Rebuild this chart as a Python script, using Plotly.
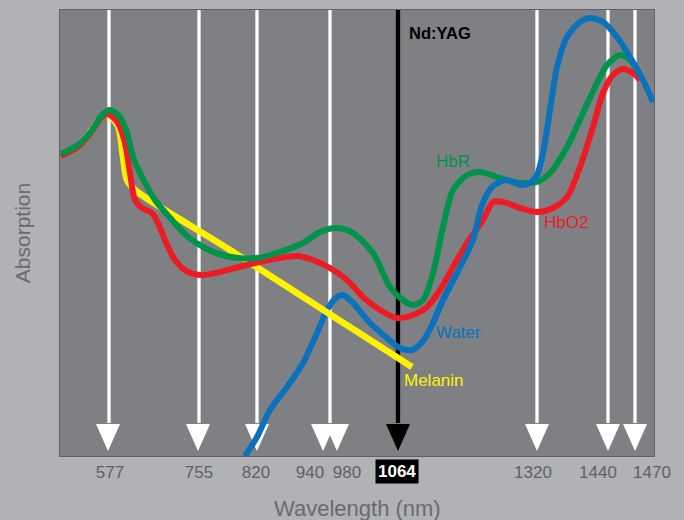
import plotly.graph_objects as go

# ---------------- data (schematic axis units) ----------------
# laser lines: label, shaft position, arrow-head position, tick-label position
line_labels = ["577", "755", "820", "940", "980", "1064", "1320", "1440", "1470"]
shaft_x = [49, 139, 197, 270, 270, 338, 477, 548, 575]
head_x = [48, 138, 197, 263, 277, 338, 477, 548, 575]
label_x = [50, 139, 196, 250, 287, 337, 473, 538, 592]
highlight = "1064"

# HbR (green)
hbr_x = [1, 18, 32, 42, 50, 60, 67, 73, 82, 95, 112, 128, 145, 162, 178, 197, 220, 243, 260, 277,
         293, 313, 330, 343, 353, 363, 373, 383, 393, 407, 420, 437, 453, 463, 477, 490, 507, 523,
         537, 547, 560, 570, 580]
hbr_y = [302, 311, 326, 341, 346, 339, 323, 299, 279, 256, 236, 219, 208, 201, 198, 198, 204, 213,
         224, 228, 223, 203, 169, 156, 151, 156, 183, 229, 266, 281, 284, 279, 274, 273, 274, 283,
         309, 343, 373, 391, 401, 396, 381]

# HbO2 (red)
hbo2_x = [1, 18, 32, 42, 48, 58, 65, 70, 75, 82, 92, 98, 105, 115, 128, 142, 155, 175, 195, 220,
          237, 253, 270, 287, 303, 320, 337, 353, 367, 380, 393, 407, 423, 433, 443, 460, 477, 493,
          507, 520, 533, 543, 553, 563, 573, 580]
hbo2_y = [300, 309, 325, 339, 342, 333, 313, 283, 256, 248, 243, 233, 216, 196, 184, 181, 183, 188,
          193, 198, 200, 196, 188, 176, 159, 146, 138, 141, 149, 166, 189, 213, 236, 254, 254, 248,
          244, 248, 259, 289, 329, 363, 381, 387, 383, 376]

# Water (blue)
water_x = [185, 197, 210, 227, 243, 257, 267, 277, 283, 293, 310, 327, 340, 352, 363, 373, 383, 397,
           413, 422, 433, 447, 460, 470, 477, 483, 490, 497, 507, 520, 530, 543, 557, 570, 583, 593]
water_y = [0, 19, 46, 69, 93, 123, 146, 159, 161, 153, 133, 118, 108, 106, 115, 133, 156, 183, 216,
           251, 270, 276, 271, 273, 281, 303, 346, 389, 419, 434, 438, 434, 419, 399, 376, 354]

# Melanin (yellow)
mel_x = [1, 18, 32, 42, 47, 58, 63, 67, 75, 170, 352]
mel_y = [301, 310, 326, 340, 342, 330, 299, 276, 266, 206, 89]

# ---------------- styling ----------------
X_MAX, Y_MAX = 594, 446
HEAD_TOP, HEAD_TIP, HEAD_HALF = 32, 5, 12
GREEN, RED, BLUE, YELLOW = "#00944a", "#ed1c24", "#0a72bd", "#fff200"
FONT = "Liberation Sans, Arial, sans-serif"
TICK_COLOR = "#606164"
TITLE_COLOR = "#6a6b6e"
PAPER = "#b1b2b5"

fig = go.Figure()

# arrow shafts and heads
def arrow_traces(shafts, heads, color, width):
    sx, sy, hx, hy = [], [], [], []
    for s in shafts:
        sx += [s, s, None]
        sy += [Y_MAX, HEAD_TOP + 1, None]
    for h in heads:
        hx += [h - HEAD_HALF, h + HEAD_HALF, h, h - HEAD_HALF, None]
        hy += [HEAD_TOP, HEAD_TOP, HEAD_TIP, HEAD_TOP, None]
    fig.add_trace(go.Scatter(x=sx, y=sy, mode="lines", line=dict(color=color, width=width),
                             hoverinfo="skip", showlegend=False))
    fig.add_trace(go.Scatter(x=hx, y=hy, mode="lines", fill="toself", fillcolor=color,
                             line=dict(color=color, width=0), hoverinfo="skip", showlegend=False))

white_idx = [i for i, l in enumerate(line_labels) if l != highlight]
black_idx = [i for i, l in enumerate(line_labels) if l == highlight]
arrow_traces(sorted(set(shaft_x[i] for i in white_idx)), [head_x[i] for i in white_idx], "white", 3.3)
arrow_traces([shaft_x[i] for i in black_idx], [head_x[i] for i in black_idx], "black", 4.3)

def curve(x, y, color, width=6):
    fig.add_trace(go.Scatter(x=x, y=y, mode="lines",
                             line=dict(color=color, width=width, shape="spline", smoothing=0.8),
                             hoverinfo="skip", showlegend=False))

split = 17
curve(water_x[:split + 1], water_y[:split + 1], BLUE)
curve(mel_x, mel_y, YELLOW, 6.5)
curve(hbo2_x, hbo2_y, RED)
curve(hbr_x, hbr_y, GREEN)
curve(water_x[split - 2:], water_y[split - 2:], BLUE)

# curve labels
labels = [
    ("HbR", 393, 295, GREEN),
    ("HbO2", 506, 234, RED),
    ("Water", 398, 124, BLUE),
    ("Melanin", 374, 76, YELLOW),
]
for text, x, y, c in labels:
    fig.add_annotation(x=x, y=y, text=text, showarrow=False,
                       font=dict(family=FONT, size=17, color=c))

fig.add_annotation(x=347, y=423, text="<b>Nd:YAG</b>", showarrow=False, xanchor="left",
                   font=dict(family=FONT, size=16.5, color="black"))

# highlighted tick label
hi = line_labels.index(highlight)
fig.add_annotation(x=label_x[hi], y=0, yref="paper", yanchor="top", yshift=-3,
                   text="<b>" + highlight + "</b>", showarrow=False, bgcolor="black",
                   borderpad=2, font=dict(family=FONT, size=17, color="white"))

# x-axis title
fig.add_annotation(x=0.5, xref="paper", y=0, yref="paper", yanchor="middle",
                   yshift=-52, text="Wavelength (nm)", showarrow=False,
                   font=dict(family=FONT, size=22, color=TITLE_COLOR))

fig.update_layout(
    width=684, height=520,
    margin=dict(l=60, r=30, t=10, b=64),
    paper_bgcolor=PAPER,
    plot_bgcolor="#7f8084",
    font=dict(family=FONT),
    xaxis=dict(range=[0, X_MAX], showgrid=False, zeroline=False,
               tickvals=[label_x[i] for i in white_idx],
               ticktext=[line_labels[i] for i in white_idx],
               ticks="outside", ticklen=1, tickcolor="rgba(0,0,0,0)",
               tickfont=dict(family=FONT, size=17, color=TICK_COLOR),
               showline=True, linecolor="#606164", linewidth=1, mirror=True),
    yaxis=dict(range=[0, Y_MAX], showgrid=False, zeroline=False, showticklabels=False,
               showline=True, linecolor="#606164", linewidth=1, mirror=True,
               title=dict(text="Absorption", standoff=22,
                          font=dict(family=FONT, size=21, color=TITLE_COLOR))),
)

fig.write_html("out.html", config={"displayModeBar": False},
               post_script="document.body.style.margin='0';"
                           "document.body.style.background='" + PAPER + "';")
